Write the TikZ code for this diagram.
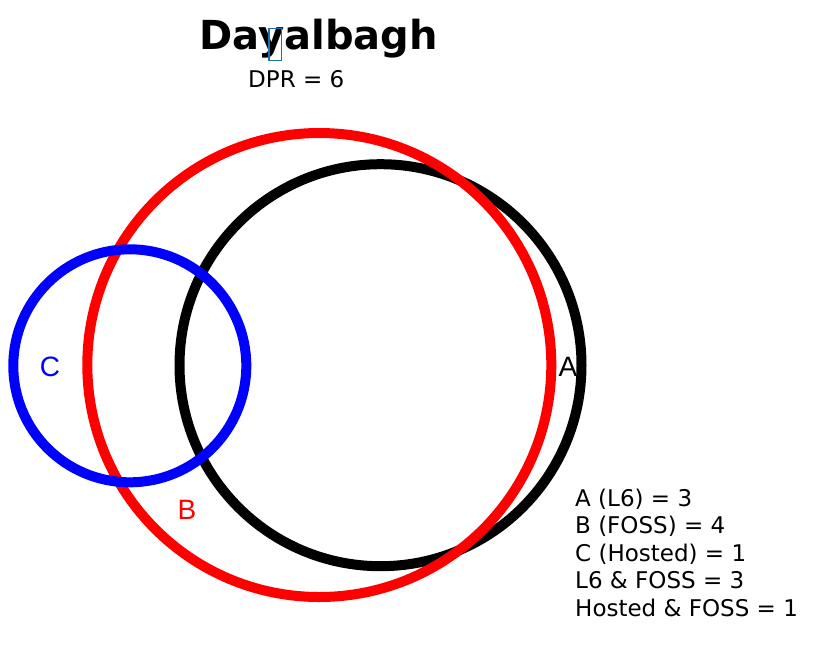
\documentclass[tikz,border=0pt]{standalone}
\usepackage{fontspec}
\setmainfont{DejaVu Sans}
\newfontfamily\arialfont{Liberation Sans}
\begin{document}
\begin{tikzpicture}[x=1pt,y=-1pt,
  ring/.style={circle,draw,line width=10pt,inner sep=0pt,outer sep=0pt},
  setlabel/.style={font=\arialfont\fontsize{28}{28}\selectfont,inner sep=0pt},
  legend/.style={anchor=base west,inner sep=0pt,font=\fontsize{23}{23}\selectfont}]
\useasboundingbox (0,0) rectangle (828,659);
% circles
\node[ring,draw=black,minimum size=402pt] (A) at (380.5,365.2) {};
\node[ring,draw=red,minimum size=464pt] (B) at (319.3,365) {};
\node[ring,draw=blue,minimum size=233pt] (C) at (129.8,365.8) {};
% set labels
\node[setlabel,text=blue] (lc) at (50,367) {C};
\node[setlabel,text=red] (lb) at (187,510) {B};
\node[setlabel,text=black] (la) at (568,367) {A};
% title
\node[anchor=base,inner sep=0pt,font=\bfseries\fontsize{40}{40}\selectfont] (title) at (318.5,49.3) {Dayalbagh};
\node[anchor=base west,inner sep=0pt,font=\fontsize{23}{23}\selectfont] (dpr) at (248,87.7) {DPR = 6};
\node[draw={rgb,255:red,31;green,111;blue,180},line width=1.3pt,minimum width=12.5pt,minimum height=32pt,inner sep=0pt] (cursor) at (275.3,44.2) {};
% legend
\node[legend] (l1) at (575,506) {A (L6) = 3};
\node[legend] (l2) at (575,533.5) {B (FOSS) = 4};
\node[legend] (l3) at (575,561) {C (Hosted) = 1};
\node[legend] (l4) at (575,588.5) {L6 \& FOSS = 3};
\node[legend] (l5) at (575,616.5) {Hosted \& FOSS = 1};
\end{tikzpicture}
\end{document}
